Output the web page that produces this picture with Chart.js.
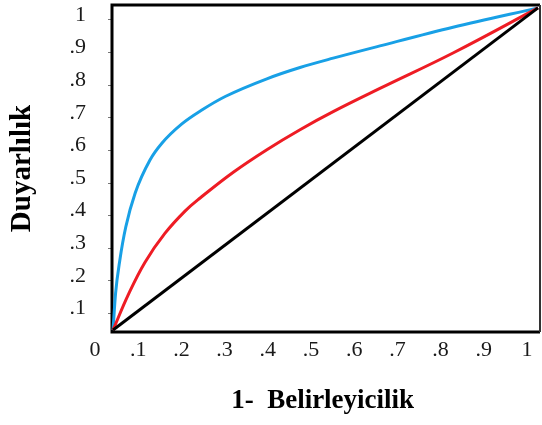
<!DOCTYPE html>
<html>
<head>
<meta charset="utf-8">
<script src="https://cdn.jsdelivr.net/npm/chart.js@4"></script>
<style>
  html, body { margin: 0; padding: 0; background: #fff; }
  #wrap { width: 542px; height: 425px; }
</style>
</head>
<body>
<div id="wrap"><canvas id="roc"></canvas></div>
<script>
// ROC curves
const blueX = [0, 0.006, 0.016, 0.03, 0.052, 0.087, 0.115, 0.162, 0.209, 0.264, 0.362, 0.44, 0.518, 0.628, 0.80, 1];
const blueY = [0, 0.114, 0.217, 0.32, 0.425, 0.528, 0.58, 0.64, 0.683, 0.725, 0.78, 0.815, 0.844, 0.882, 0.94, 1];

const redX = [0, 0.036, 0.075, 0.122, 0.17, 0.205, 0.283, 0.362, 0.44, 0.518, 0.628, 0.80, 1];
const redY = [0, 0.11, 0.21, 0.30, 0.37, 0.41, 0.49, 0.56, 0.622, 0.678, 0.75, 0.86, 1];

const diagX = [0, 1];
const diagY = [0, 1];

// tick labels (the printed axes are a bit shifted from the curves)
const xTickVals = [0, 0.1, 0.2, 0.3, 0.4, 0.5, 0.6, 0.7, 0.8, 0.9, 1];
const xTickText = ['0', '.1', '.2', '.3', '.4', '.5', '.6', '.7', '.8', '.9', '1'];
const yTickVals = [0.1, 0.2, 0.3, 0.4, 0.5, 0.6, 0.7, 0.8, 0.9, 1];
const yTickText = ['.1', '.2', '.3', '.4', '.5', '.6', '.7', '.8', '.9', '1'];

const serif = '"Liberation Serif", "Times New Roman", serif';

function pts(xs, ys) {
    return xs.map((x, i) => ({ x: x, y: ys[i] }));
}

function curve(label, xs, ys, color, smooth) {
    const ds = {
        label: label,
        data: pts(xs, ys),
        showLine: true,
        borderColor: color,
        borderWidth: 3,
        pointRadius: 0,
        clip: false
    };
    if (smooth === 'monotone') ds.cubicInterpolationMode = 'monotone';
    else ds.tension = smooth || 0;
    return ds;
}

// box round the plot area
const frame = {
    id: 'frame',
    beforeDatasetsDraw(chart) {
        const a = chart.chartArea;
        const ctx = chart.ctx;
        ctx.save();
        ctx.strokeStyle = '#000';
        ctx.lineWidth = 3;
        ctx.beginPath();
        ctx.moveTo(a.right, a.top);
        ctx.lineTo(a.left, a.top);
        ctx.lineTo(a.left, a.bottom);
        ctx.lineTo(a.right, a.bottom);
        ctx.stroke();
        ctx.lineWidth = 2;
        ctx.strokeStyle = '#333';
        ctx.beginPath();
        ctx.moveTo(a.right, a.top);
        ctx.lineTo(a.right, a.bottom);
        ctx.stroke();
        ctx.restore();
    }
};

new Chart(document.getElementById('roc'), {
    type: 'scatter',
    data: {
        datasets: [
            curve('diag', diagX, diagY, '#000000', 0),
            curve('red', redX, redY, '#ee1c24', 0.4),
            curve('blue', blueX, blueY, '#18a0e6', 'monotone')
        ]
    },
    options: {
        responsive: true,
        maintainAspectRatio: false,
        animation: false,
        layout: { padding: { top: 5, right: 2, left: 0, bottom: 0 } },
        plugins: {
            legend: { display: false },
            tooltip: { enabled: false }
        },
        scales: {
            x: { type: 'linear', display: false, min: -0.0024, max: 1.0047 },
            y: { type: 'linear', display: false, min: -0.006, max: 1.009 },
            xLab: {
                type: 'linear',
                position: 'bottom',
                min: 0.0394,
                max: 1.0301,
                afterFit: (s) => {
                    s.height = 93;
                    s.paddingLeft = 0;
                    s.paddingRight = 0;
                },
                afterBuildTicks: (s) => { s.ticks = xTickVals.map(v => ({ value: v })); },
                grid: { display: false },
                border: { display: false },
                ticks: {
                    autoSkip: false,
                    maxRotation: 0,
                    minRotation: 0,
                    padding: -3,
                    color: '#1a1a1a',
                    font: { family: serif, size: 22 },
                    callback: (v) => xTickText[xTickVals.indexOf(v)]
                },
                title: {
                    display: true,
                    text: '1-  Belirleyicilik ',
                    color: '#000',
                    font: { family: serif, size: 27, weight: 'bold' },
                    padding: { top: 0, bottom: 8 }
                }
            },
            yLab: {
                type: 'linear',
                position: 'left',
                min: 0.043,
                max: 1.046,
                afterFit: (s) => {
                    s.width = 112;
                    s.paddingTop = 0;
                    s.paddingBottom = 0;
                },
                afterBuildTicks: (s) => { s.ticks = yTickVals.map(v => ({ value: v })); },
                grid: {
                    display: true,
                    drawOnChartArea: false,
                    drawTicks: true,
                    tickLength: 4,
                    color: '#777',
                    lineWidth: 1
                },
                border: { display: false },
                ticks: {
                    autoSkip: false,
                    padding: 22,
                    labelOffset: -5,
                    color: '#1a1a1a',
                    font: { family: serif, size: 22 },
                    callback: (v) => yTickText[yTickVals.indexOf(v)]
                },
                title: {
                    display: true,
                    text: 'Duyarlılık',
                    color: '#000',
                    font: { family: serif, size: 29, weight: 'bold' },
                    padding: { top: 5, bottom: 0 }
                }
            }
        }
    },
    plugins: [frame]
});
</script>
</body>
</html>
